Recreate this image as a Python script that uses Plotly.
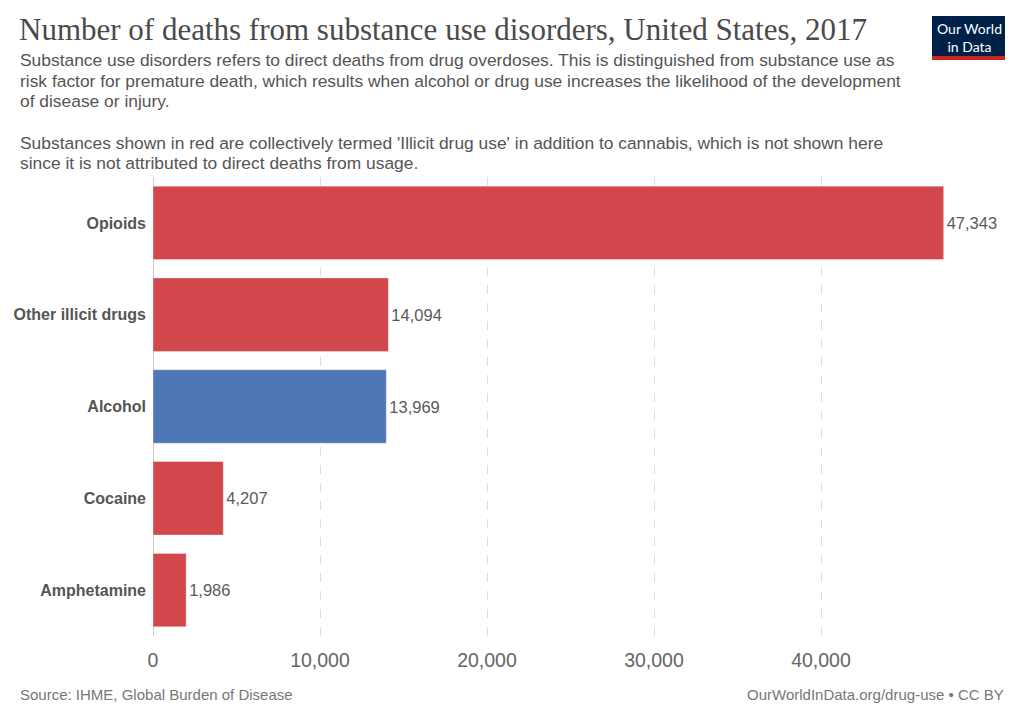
import plotly.graph_objects as go

categories = ["Opioids", "Other illicit drugs", "Alcohol", "Cocaine", "Amphetamine"]
deaths = [47343, 14094, 13969, 4207, 1986]
bar_colors = ["#d2474c", "#d2474c", "#4e75b5", "#d2474c", "#d2474c"]
x_tick_vals = [0, 10000, 20000, 30000, 40000]
x_tick_text = ["0", "10,000", "20,000", "30,000", "40,000"]

OFF = 8  # page body margin
W_PX, H_PX = 1024 - OFF, 723 - OFF
L, R, T, B = 153 - OFF, 21, 177 - OFF, 87
PW = W_PX - L - R
PH = H_PX - T - B
XMAX = PW / 167.0 * 10000


def px(x):
    return (x - OFF - L) / PW


def py(y):
    return 1 - (y - OFF - T) / PH


fig = go.Figure()
fig.add_trace(go.Bar(
    y=categories, x=deaths, orientation="h",
    marker=dict(color=bar_colors, line=dict(color="rgba(255,255,255,0.35)", width=1)),
    text=[f"{v:,}" for v in deaths], textposition="outside",
    textfont=dict(family="Liberation Sans, Arial", size=16.5, color="#5b5b5b"),
    cliponaxis=False, hoverinfo="skip",
))

fig.update_layout(
    width=W_PX, height=H_PX,
    margin=dict(l=L, r=R, t=T, b=B, autoexpand=False),
    paper_bgcolor="white", plot_bgcolor="white",
    bargap=0.2, showlegend=False,
    font=dict(family="Liberation Sans, Arial", color="#555"),
    xaxis=dict(range=[0, XMAX], tickvals=x_tick_vals, ticktext=x_tick_text,
               showgrid=True, gridcolor="#dddddd", griddash="dash", gridwidth=1,
               zeroline=True, zerolinecolor="#cccccc", zerolinewidth=1,
               showline=False, ticks="", ticklabelstandoff=10,
               tickfont=dict(size=19.5, color="#666", family="Liberation Sans, Arial"),
               fixedrange=True),
    yaxis=dict(categoryorder="array", categoryarray=categories, autorange="reversed",
               showgrid=False, zeroline=False, showline=False, ticks="",
               ticklabelstandoff=6,
               tickfont=dict(size=16, color="#555", family="Liberation Sans, Arial",
                             weight="bold"),
               fixedrange=True),
)

ann = []
ann.append(dict(text="Number of deaths from substance use disorders, United States, 2017",
                x=px(17), y=py(29), xanchor="left", yanchor="middle",
                font=dict(family="Liberation Serif, Times New Roman, serif", size=31, color="#4a4a4a")))
sub_lines = [
    ("Substance use disorders refers to direct deaths from drug overdoses. This is distinguished from substance use as", 60),
    ("risk factor for premature death, which results when alcohol or drug use increases the likelihood of the development", 81),
    ("of disease or injury.", 101),
    ("Substances shown in red are collectively termed 'Illicit drug use' in addition to cannabis, which is not shown here", 143),
    ("since it is not attributed to direct deaths from usage.", 163),
]
for t, yy in sub_lines:
    ann.append(dict(text=t, x=px(18), y=py(yy), xanchor="left", yanchor="middle",
                    font=dict(size=17.4, color="#555", family="Liberation Sans, Arial")))
ann.append(dict(text="Source: IHME, Global Burden of Disease", x=px(18), y=py(694),
                xanchor="left", yanchor="middle",
                font=dict(size=15, color="#777", family="Liberation Sans, Arial")))
ann.append(dict(text="OurWorldInData.org/drug-use • CC BY", x=px(1006), y=py(694),
                xanchor="right", yanchor="middle",
                font=dict(size=15, color="#777", family="Liberation Sans, Arial")))
ann.append(dict(text="Our World<br>in Data", x=px(969), y=py(37.5), xanchor="center", yanchor="middle",
                align="center",
                font=dict(size=14, color="white", family="Lato, Liberation Sans")))
for a in ann:
    a.update(xref="paper", yref="paper", showarrow=False)
fig.update_layout(annotations=ann)

fig.add_shape(type="rect", xref="paper", yref="paper",
              x0=px(932), x1=px(1005), y0=py(56), y1=py(16),
              fillcolor="#002147", line=dict(width=0), layer="below")
fig.add_shape(type="rect", xref="paper", yref="paper",
              x0=px(932), x1=px(1005), y0=py(60), y1=py(56),
              fillcolor="#ce261e", line=dict(width=0), layer="below")

fig.write_html("out.html")
